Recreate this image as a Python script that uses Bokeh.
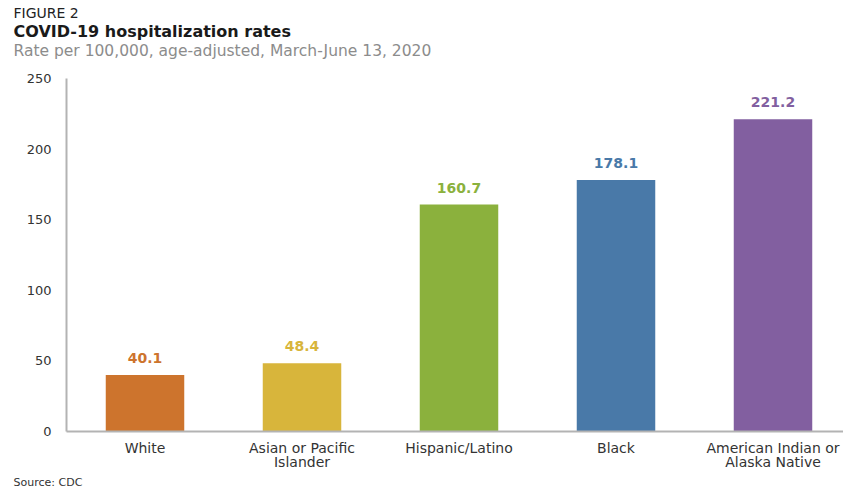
import numpy as np
from bokeh.plotting import figure
from bokeh.models import Title, ColumnDataSource, LabelSet, Range1d, FixedTicker
from bokeh.embed import file_html
from bokeh.resources import INLINE
from bokeh.core.properties import value

categories = ["White", "Asian or Pacific\nIslander", "Hispanic/Latino", "Black",
              "American Indian or\nAlaska Native"]
rates = [40.1, 48.4, 160.7, 178.1, 221.2]
rate_labels = ["40.1", "48.4", "160.7", "178.1", "221.2"]
colors = ["#CD742D", "#D8B53B", "#8BB13D", "#4979A8", "#825FA0"]
y_ticks = [0, 50, 100, 150, 200, 250]

FONT = "DejaVu Sans"
W, H = 843, 489
LEFT, TOP, BOTTOM = 66, 78, 58
SLOT = 157  # pixel width of one category slot in the reference

xpos = np.arange(len(categories)) + 0.5
src = ColumnDataSource(dict(x=xpos, rate=rates, lab=rate_labels, col=colors))

p = figure(x_range=Range1d(0, (W - LEFT) / SLOT), y_range=Range1d(0, 250),
           width=W, height=H, output_backend="svg", toolbar_location=None,
           min_border_left=LEFT, min_border_right=0, min_border_bottom=BOTTOM,
           min_border_top=TOP)

p.vbar(x="x", top="rate", width=0.5, color="col", line_color=None, source=src)

p.add_layout(LabelSet(x="x", y="rate", text="lab", source=src, y_offset=17,
                      text_align="center", text_baseline="middle", text_color="col",
                      text_font=value(FONT), text_font_size="14px", text_font_style="bold"))

p.xgrid.visible = False
p.ygrid.visible = False
p.outline_line_color = None

for ax in (p.xaxis[0], p.yaxis[0]):
    ax.axis_line_color = "#b3b3b3"
    ax.axis_line_width = 2
    ax.major_tick_line_color = None
    ax.minor_tick_line_color = None
    ax.major_label_text_font = FONT
    ax.major_label_text_color = "#333333"

p.yaxis.ticker = FixedTicker(ticks=y_ticks)
p.yaxis.major_label_text_font_size = "13px"
p.yaxis.major_label_standoff = 9

p.xaxis.ticker = FixedTicker(ticks=list(xpos))
p.xaxis.major_label_overrides = {float(x): c for x, c in zip(xpos, categories)}
p.xaxis.major_label_text_font_size = "14px"
p.xaxis.major_label_standoff = 2
p.xaxis.major_label_text_line_height = 0.92

def header(text, size, style, color, standoff, place="above"):
    t = Title(text=text, align="left", offset=-53, text_font=FONT,
              text_font_size=size, text_font_style=style, text_color=color,
              standoff=standoff)
    p.add_layout(t, place)

# panels are stacked from the plot outward
header(" ", "1px", "normal", "#ffffff", 16)  # spacer between plot and subtitle
header("Rate per 100,000, age-adjusted, March-June 13, 2020", "15.5px", "normal", "#8c8c8c", 0)
header("COVID-19 hospitalization rates", "16px", "bold", "#1a1a1a", -2)
header("FIGURE 2", "14px", "normal", "#222222", 0)
header("Source: CDC", "11px", "normal", "#333333", 1, place="below")

open("out.html", "w").write(file_html(p, INLINE))
